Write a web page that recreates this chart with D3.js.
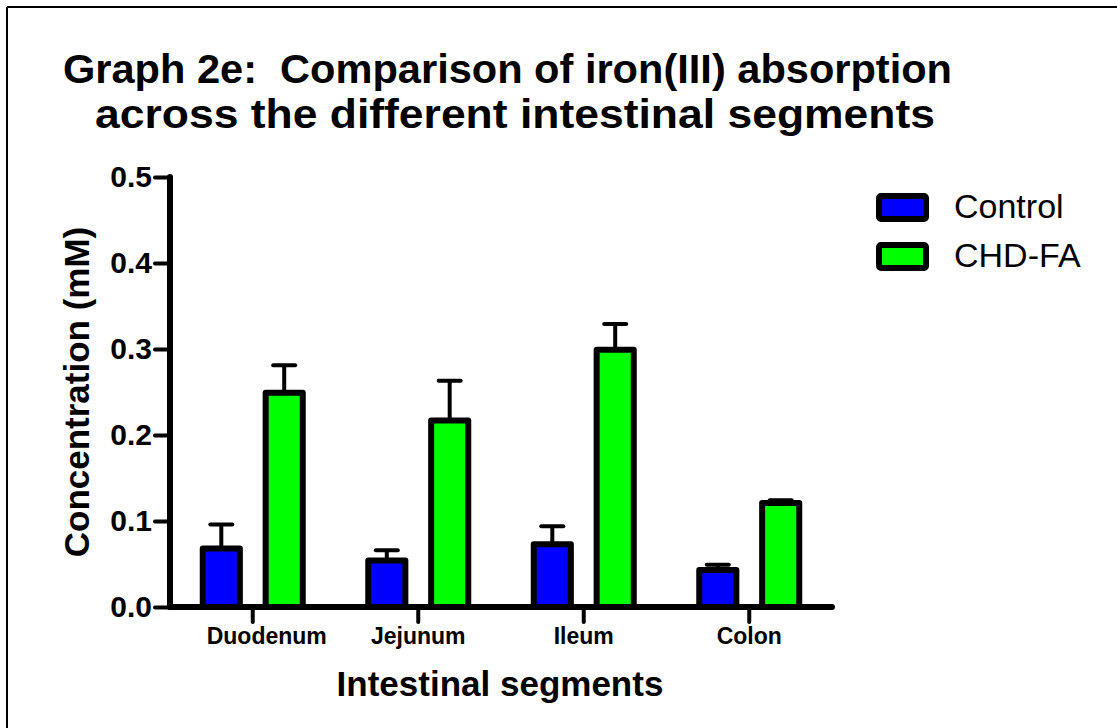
<!DOCTYPE html>
<html>
<head>
<meta charset="utf-8">
<script src="https://cdn.jsdelivr.net/npm/d3@7"></script>
<style>
  html, body { margin: 0; padding: 0; background: #fff; }
  svg { display: block; }
  text { font-family: "Liberation Sans", Arial, sans-serif; }
</style>
</head>
<body>
<script>
const categories = ["Duodenum", "Jejunum", "Ileum", "Colon"];
const seriesNames = ["Control", "CHD-FA"];
const controlValues = [0.068, 0.054, 0.073, 0.043];
const controlErrors = [0.028, 0.012, 0.021, 0.006];
const chdfaValues = [0.249, 0.217, 0.299, 0.121];
const chdfaErrors = [0.032, 0.046, 0.030, 0.003];
const yTicks = [0.0, 0.1, 0.2, 0.3, 0.4, 0.5];
const colors = ["#0000ff", "#00ff00"];

const W = 1117, H = 728;
const svg = d3.select("body").append("svg").attr("width", W).attr("height", H);

// outer frame (top and left edges visible)
svg.append("line").attr("x1", 7).attr("y1", 7).attr("x2", W).attr("y2", 7)
  .attr("stroke", "#000").attr("stroke-width", 2);
svg.append("line").attr("x1", 7).attr("y1", 7).attr("x2", 7).attr("y2", H)
  .attr("stroke", "#000").attr("stroke-width", 2);

// title
svg.append("text").attr("x", 63).attr("y", 83)
  .style("white-space", "pre")
  .attr("font-size", 40).attr("font-weight", "bold")
  .attr("textLength", 889).attr("lengthAdjust", "spacingAndGlyphs")
  .text("Graph 2e:  Comparison of iron(III) absorption");
svg.append("text").attr("x", 95).attr("y", 128)
  .attr("font-size", 40).attr("font-weight", "bold")
  .attr("textLength", 840).attr("lengthAdjust", "spacingAndGlyphs")
  .text("across the different intestinal segments");

const x0 = d3.scaleBand().domain(categories).range([170, 832]).padding(0);
const x1 = d3.scaleBand().domain(seriesNames)
  .range([-50, 50]).paddingInner(0.41).paddingOuter(0);
const y = d3.scaleLinear().domain([0, 0.5]).range([607, 177]);

const data = categories.map((c, i) => ({
  cat: c,
  vals: [
    { s: seriesNames[0], v: controlValues[i], e: controlErrors[i], col: colors[0] },
    { s: seriesNames[1], v: chdfaValues[i], e: chdfaErrors[i], col: colors[1] }
  ]
}));

const groups = svg.append("g").selectAll("g").data(data).join("g")
  .attr("transform", d => `translate(${x0(d.cat) + x0.bandwidth() / 2},0)`);

// error bars (behind bars)
groups.selectAll("line.err").data(d => d.vals).join("line")
  .attr("class", "err")
  .attr("x1", d => x1(d.s) + x1.bandwidth() / 2)
  .attr("x2", d => x1(d.s) + x1.bandwidth() / 2)
  .attr("y1", d => y(d.v))
  .attr("y2", d => y(d.v + d.e))
  .attr("stroke", "#000").attr("stroke-width", 4);
groups.selectAll("line.cap").data(d => d.vals).join("line")
  .attr("class", "cap")
  .attr("x1", d => x1(d.s) + x1.bandwidth() / 2 - 11)
  .attr("x2", d => x1(d.s) + x1.bandwidth() / 2 + 11)
  .attr("y1", d => y(d.v + d.e))
  .attr("y2", d => y(d.v + d.e))
  .attr("stroke", "#000").attr("stroke-width", 4).attr("stroke-linecap", "round");

groups.selectAll("rect").data(d => d.vals).join("rect")
  .attr("x", d => x1(d.s))
  .attr("width", x1.bandwidth())
  .attr("y", d => y(d.v))
  .attr("height", d => y(0) - y(d.v))
  .attr("fill", d => d.col)
  .attr("stroke", "#000").attr("stroke-width", 6)
  .attr("stroke-linejoin", "round");

// y axis
const yAxis = svg.append("g").attr("transform", "translate(170,0)")
  .call(d3.axisLeft(y).tickValues(yTicks).tickFormat(d3.format(".1f")).tickSize(15).tickPadding(3));
yAxis.select(".domain").remove();
yAxis.selectAll(".tick line").attr("stroke", "#000").attr("stroke-width", 4).attr("stroke-linecap", "round");
yAxis.selectAll(".tick text").attr("font-size", 30).attr("font-weight", "bold")
  .attr("font-family", '"Liberation Sans", Arial, sans-serif').attr("fill", "#000");
svg.append("line").attr("x1", 170).attr("x2", 170).attr("y1", y(0.5)).attr("y2", y(0))
  .attr("stroke", "#000").attr("stroke-width", 6).attr("stroke-linecap", "round");

// x axis
const xAxis = svg.append("g").attr("transform", `translate(0,${y(0)})`)
  .call(d3.axisBottom(x0).tickSize(15).tickPadding(6));
xAxis.select(".domain").remove();
xAxis.selectAll(".tick line").attr("stroke", "#000").attr("stroke-width", 4).attr("stroke-linecap", "round");
xAxis.selectAll(".tick text").attr("font-size", 23).attr("font-weight", "bold")
  .attr("font-family", '"Liberation Sans", Arial, sans-serif').attr("fill", "#000")
  .attr("dx", (d, i) => i === 0 ? 14 : 0);
svg.append("line").attr("x1", 170).attr("x2", 832).attr("y1", y(0)).attr("y2", y(0))
  .attr("stroke", "#000").attr("stroke-width", 6).attr("stroke-linecap", "round");

// axis titles
svg.append("text").attr("x", 500).attr("y", 696).attr("text-anchor", "middle")
  .attr("font-size", 35).attr("font-weight", "bold").text("Intestinal segments");
svg.append("text").attr("transform", "translate(89,392) rotate(-90)").attr("text-anchor", "middle")
  .attr("font-size", 35).attr("font-weight", "bold").text("Concentration (mM)");

// legend
const legend = svg.append("g").selectAll("g").data(seriesNames).join("g")
  .attr("transform", (d, i) => `translate(879,${196 + i * 49})`);
legend.append("rect").attr("width", 47).attr("height", 23).attr("rx", 2)
  .attr("fill", (d, i) => colors[i]).attr("stroke", "#000").attr("stroke-width", 6)
  .attr("stroke-linejoin", "round");
legend.append("text").attr("x", 75).attr("y", 22).attr("font-size", 34).text(d => d);
</script>
</body>
</html>
